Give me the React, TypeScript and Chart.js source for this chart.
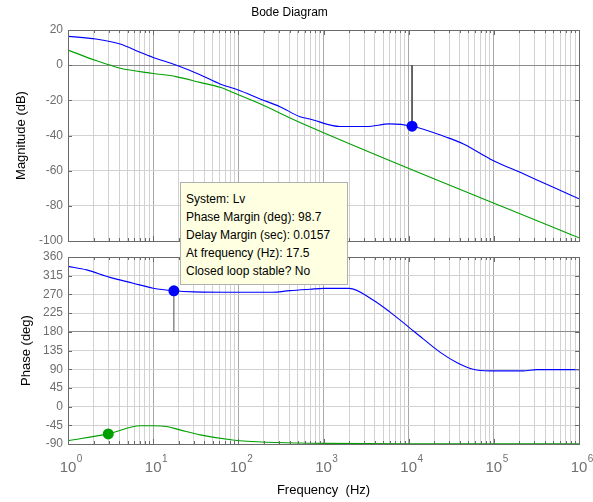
import React, { useEffect, useRef } from 'react';
import { Chart, registerables } from 'chart.js';

Chart.register(...registerables);

const FONT = "Arial, 'Liberation Sans', Helvetica, sans-serif";

// ---- text ----
const titleText = 'Bode Diagram';
const magLabel = 'Magnitude (dB)';
const phaseLabel = 'Phase (deg)';
const freqLabel = 'Frequency  (Hz)';
const infoLines = [
  'System: Lv',
  'Phase Margin (deg): 98.7',
  'Delay Margin (sec): 0.0157',
  'At frequency (Hz): 17.5',
  'Closed loop stable? No',
];

// ---- axes ----
const xDecades = [0, 1, 2, 3, 4, 5, 6];
const magTickValues = [-100, -80, -60, -40, -20, 0, 20];
const phaseTickValues = [-90, -45, 0, 45, 90, 135, 180, 225, 270, 315, 360];

// ---- magnitude (dB) ----
const blueMagFreq = [1, 2.13, 4.1, 7, 10, 18.5, 35.5, 61, 100, 180, 308, 530, 690, 1560, 3200, 6000, 10960, 27900, 44000, 90000, 222000, 500000, 1000000];
const blueMagDb = [16.4, 14.9, 12.0, 7.3, 4.4, 0.1, -5.4, -10.7, -14.1, -19.2, -23.6, -29.3, -30.6, -34.9, -34.9, -33.4, -34.7, -41, -44.8, -53.3, -61.8, -69.4, -76];
const greenMagFreq = [1, 2.13, 3.1, 4.1, 10, 18.5, 35.5, 61, 100, 180, 530, 1000000];
const greenMagDb = [8.6, 2.6, 0.1, -1.8, -4.7, -6.5, -9.8, -12.6, -16.8, -22, -32.6, -98.2];

// ---- phase (deg) ----
const bluePhaseFreq = [1, 1.66, 3.1, 5.8, 10, 17.5, 30, 100, 250, 400, 700, 1000, 2000, 3850, 6000, 10000, 14800, 23500, 36600, 57000, 90000, 220000, 320000, 1000000];
const bluePhaseDeg = [337.4, 329, 311, 297, 285, 278.7, 276, 275, 275, 279, 282.5, 284.5, 284.6, 256, 228, 191.4, 163, 130.6, 106.3, 90, 86, 86, 89, 89];
const greenPhaseFreq = [1, 2.97, 7, 10, 14.3, 20.6, 35.5, 86, 215, 1000, 10000, 1000000];
const greenPhaseDeg = [-82, -65.7, -46.2, -46, -47.8, -56, -68, -80.3, -85.9, -88.4, -89.5, -89.8];

// ---- margin markers ----
const gainMarkFreq = 10960;
const gainMarkDb = -34.7;
const gainStemFromDb = 0;
const phaseMarkFreq = 17.5;
const phaseMarkDeg = 278.7;
const phaseStemFromDeg = 180;
const greenMarkFreq = 2.97;
const greenMarkDeg = -65.7;

const BLUE = '#0000ff';
const GREEN = '#00a000';

const xTickValues: number[] = (() => {
  const out: number[] = [];
  for (let d = 0; d < 6; d++) for (let m = 1; m <= 9; m++) out.push(m * Math.pow(10, d));
  out.push(1e6);
  return out;
})();

const isDecade = (v: number) => Math.abs(Math.log10(v) - Math.round(Math.log10(v))) < 1e-9;

const zip = (xs: number[], ys: number[]) => xs.map((x, i) => ({ x, y: ys[i] }));

function framePlugin(showXLabels: boolean, labelBase: number) {
  return {
    id: 'frameAndLabels',
    afterDraw(chart: any) {
      const { ctx, chartArea: a } = chart;
      const xs = chart.scales.x;
      const ys = chart.scales.y;
      ctx.save();
      ctx.strokeStyle = '#6a6a6a';
      ctx.lineWidth = 1;
      ctx.beginPath();
      xs.ticks.forEach((t: any) => {
        const px = Math.round(xs.getPixelForValue(t.value)) + 0.5;
        const len = isDecade(t.value) ? 5 : 3;
        ctx.moveTo(px, a.top); ctx.lineTo(px, a.top + len);
        ctx.moveTo(px, a.bottom); ctx.lineTo(px, a.bottom - len);
      });
      ys.ticks.forEach((t: any) => {
        const py = Math.round(ys.getPixelForValue(t.value)) + 0.5;
        ctx.moveTo(a.left, py); ctx.lineTo(a.left + 4, py);
        ctx.moveTo(a.right, py); ctx.lineTo(a.right - 4, py);
      });
      ctx.stroke();
      ctx.strokeRect(Math.round(a.left) + 0.5, Math.round(a.top) + 0.5, Math.round(a.right - a.left), Math.round(a.bottom - a.top));
      if (showXLabels) {
        ctx.fillStyle = '#707070';
        xDecades.forEach((d) => {
          const px = xs.getPixelForValue(Math.pow(10, d));
          ctx.font = `15px ${FONT}`;
          ctx.textAlign = 'center';
          ctx.textBaseline = 'alphabetic';
          ctx.fillText('10', px, labelBase);
          const w = ctx.measureText('10').width;
          ctx.font = `10px ${FONT}`;
          ctx.textAlign = 'left';
          ctx.fillText(String(d), px + w / 2 + 0.5, labelBase - 10);
        });
      }
      ctx.restore();
    },
  };
}

function xScale(bottom: boolean) {
  return {
    type: 'logarithmic' as const,
    min: 1,
    max: 1e6,
    afterBuildTicks: (scale: any) => {
      scale.ticks = xTickValues.map((v) => ({ value: v, major: isDecade(v) }));
    },
    afterFit: (scale: any) => {
      scale.height = bottom ? 58 : 0;
      scale.paddingLeft = 0;
      scale.paddingRight = 0;
    },
    ticks: { display: false },
    grid: {
      drawTicks: false,
      lineWidth: 1,
      color: (c: any) => (c.tick && isDecade(c.tick.value) ? '#a8a8a8' : '#d2d2d2'),
    },
    border: { display: false },
    title: bottom
      ? { display: true, text: freqLabel, color: '#000', font: { size: 13, family: FONT }, padding: { top: 0, bottom: 4.2 } }
      : { display: false },
  };
}

function yScale(values: number[], darkValue: number, label: string, titlePad: number) {
  return {
    type: 'linear' as const,
    min: values[0],
    max: values[values.length - 1],
    afterBuildTicks: (scale: any) => {
      scale.ticks = values.map((v) => ({ value: v }));
    },
    afterFit: (scale: any) => {
      scale.width = 68;
      scale.paddingTop = 0;
      scale.paddingBottom = 0;
    },
    ticks: { color: '#6e6e6e', font: { size: 12, family: FONT }, padding: 5 },
    grid: {
      drawTicks: false,
      lineWidth: 1,
      color: (c: any) => (c.tick && c.tick.value === darkValue ? '#8c8c8c' : '#d2d2d2'),
    },
    border: { display: false },
    title: { display: true, text: label, color: '#000', font: { size: 13, family: FONT }, padding: { top: titlePad, bottom: 0 } },
  };
}

const lineDs = (data: any[], color: string) => ({
  data,
  showLine: true,
  borderColor: color,
  backgroundColor: color,
  borderWidth: 1.1,
  pointRadius: 0,
  cubicInterpolationMode: 'monotone' as const,
});

const markerDs = (x: number, y: number, color: string) => ({
  data: [{ x, y }],
  showLine: false,
  pointRadius: 5.5,
  pointBackgroundColor: color,
  pointBorderColor: color,
  borderWidth: 0,
});

const stemDs = (x: number, y0: number, y1: number) => ({
  data: [{ x, y: y0 }, { x, y: y1 }],
  showLine: true,
  borderColor: '#505050',
  borderWidth: 1,
  pointRadius: 0,
});

export default function App() {
  const topRef = useRef<HTMLCanvasElement>(null);
  const botRef = useRef<HTMLCanvasElement>(null);

  useEffect(() => {
    Chart.defaults.font.family = FONT;
    const top = new Chart(topRef.current as HTMLCanvasElement, {
      type: 'scatter',
      data: {
        datasets: [
          markerDs(gainMarkFreq, gainMarkDb, BLUE),
          stemDs(gainMarkFreq, gainStemFromDb, gainMarkDb),
          lineDs(zip(blueMagFreq, blueMagDb), BLUE),
          lineDs(zip(greenMagFreq, greenMagDb), GREEN),
        ] as any,
      },
      options: {
        animation: false,
        responsive: false,
        devicePixelRatio: 1,
        events: [],
        layout: { padding: { left: 0, right: 14, top: 0, bottom: 9 } },
        plugins: {
          legend: { display: false },
          tooltip: { enabled: false },
          title: { display: true, text: titleText, color: '#000', font: { size: 12, family: FONT, weight: 'normal' }, padding: { top: 5, bottom: 10.6 } },
        },
        scales: {
          x: xScale(false),
          y: yScale(magTickValues, 0, magLabel, 13.2),
        } as any,
      },
      plugins: [framePlugin(false, 0)],
    });
    const bot = new Chart(botRef.current as HTMLCanvasElement, {
      type: 'scatter',
      data: {
        datasets: [
          markerDs(phaseMarkFreq, phaseMarkDeg, BLUE),
          markerDs(greenMarkFreq, greenMarkDeg, GREEN),
          stemDs(phaseMarkFreq, phaseStemFromDeg, phaseMarkDeg),
          lineDs(zip(bluePhaseFreq, bluePhaseDeg), BLUE),
          lineDs(zip(greenPhaseFreq, greenPhaseDeg), GREEN),
        ] as any,
      },
      options: {
        animation: false,
        responsive: false,
        devicePixelRatio: 1,
        events: [],
        layout: { padding: { left: 0, right: 14, top: 12, bottom: 0 } },
        plugins: { legend: { display: false }, tooltip: { enabled: false } },
        scales: {
          x: xScale(true),
          y: yScale(phaseTickValues, 180, phaseLabel, 18.2),
        } as any,
      },
      plugins: [framePlugin(true, 227)],
    });
    return () => {
      top.destroy();
      bot.destroy();
    };
  }, []);

  return (
    <div style={{ position: 'fixed', left: 0, top: 0, width: 593, height: 502, background: '#fff', overflow: 'hidden' }}>
      <canvas ref={topRef} width={593} height={250} style={{ position: 'absolute', left: 0, top: 0, width: 593, height: 250 }} />
      <canvas ref={botRef} width={593} height={257} style={{ position: 'absolute', left: 0, top: 245, width: 593, height: 257 }} />
      <div
        style={{
          position: 'absolute',
          left: 180,
          top: 182,
          width: 168,
          height: 103,
          boxSizing: 'border-box',
          background: '#ffffe1',
          border: '1px solid #b0b0b0',
          padding: '7px 0 0 5px',
          fontFamily: FONT,
          fontSize: 12,
          lineHeight: '18px',
          color: '#000',
          whiteSpace: 'nowrap',
        }}
      >
        {infoLines.map((l, i) => (
          <div key={i}>{l}</div>
        ))}
      </div>
    </div>
  );
}
